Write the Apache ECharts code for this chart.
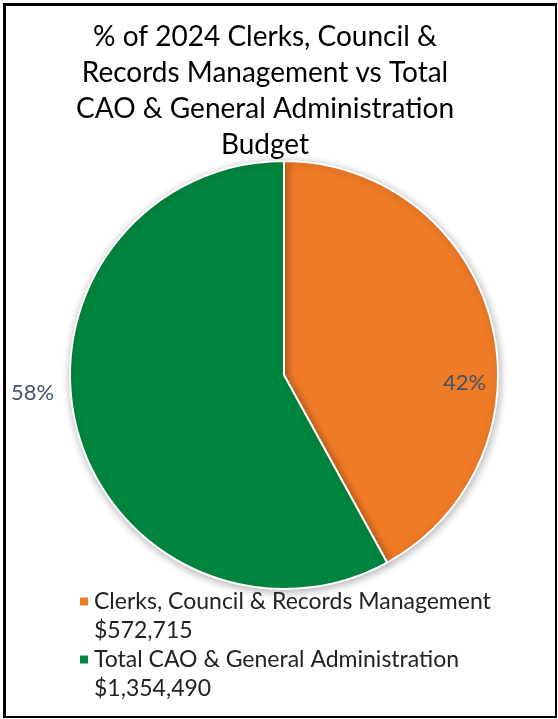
<!DOCTYPE html>
<html>
<head>
<meta charset="utf-8">
<script src="https://cdn.jsdelivr.net/npm/echarts@6/dist/echarts.min.js"></script>
<style>
html,body{margin:0;padding:0;background:#fff;}
#frame{position:absolute;left:3px;top:3px;width:549px;height:710px;border:3px solid #000;border-right-width:2px;border-bottom-width:2px;}
#chart{position:absolute;left:0;top:0;width:558px;height:719px;}
</style>
</head>
<body>
<div id="chart"></div>
<div id="frame"></div>
<script>
const titleText = "% of 2024 Clerks, Council &\nRecords Management vs Total\nCAO & General Administration\nBudget";
const categories = ["Clerks, Council & Records Management", "Total CAO & General Administration"];
const budgetLabels = ["$572,715", "$1,354,490"];
const sliceValues = [42, 58];
const colors = ["#F07B27", "#00873F"];

const chart = echarts.init(document.getElementById('chart'));
const legendNames = categories.map((c, i) => c + "\n" + budgetLabels[i]);
const labelOffsets = [[74, 35], [-145, -9]];

chart.setOption({
  animation: false,
  title: {
    text: titleText,
    left: 260,
    textAlign: 'center',
    top: 14,
    textStyle: {
      fontFamily: 'Lato, "Open Sans", sans-serif',
      fontSize: 28,
      fontWeight: 'normal',
      color: '#000',
      lineHeight: 36
    }
  },
  legend: {
    orient: 'vertical',
    left: 78,
    top: 558,
    padding: 0,
    itemWidth: 10,
    itemHeight: 10,
    itemGap: -29,
    icon: 'rect',
    data: legendNames,
    textStyle: {
      fontFamily: 'Lato, "Open Sans", sans-serif',
      fontSize: 23,
      color: '#222',
      lineHeight: 29
    },
    formatter: n => "\n" + n
  },
  series: [{
    type: 'pie',
    center: [284, 375],
    radius: 214,
    startAngle: 90,
    clockwise: true,
    itemStyle: {
      borderColor: '#fff',
      borderWidth: 2,
      shadowBlur: 8,
      shadowColor: 'rgba(0,0,0,0.3)',
      shadowOffsetX: 1,
      shadowOffsetY: 2
    },
    emphasis: {disabled: true},
    labelLine: {show: false},
    label: {
      position: 'inside',
      formatter: '{d}%',
      fontFamily: 'Lato, "Open Sans", sans-serif',
      fontSize: 22,
      color: '#44546A'
    },
    data: sliceValues.map((v, i) => ({
      name: legendNames[i],
      value: v,
      itemStyle: {color: colors[i]},
      label: {offset: labelOffsets[i]}
    }))
  }]
});
</script>
</body>
</html>
